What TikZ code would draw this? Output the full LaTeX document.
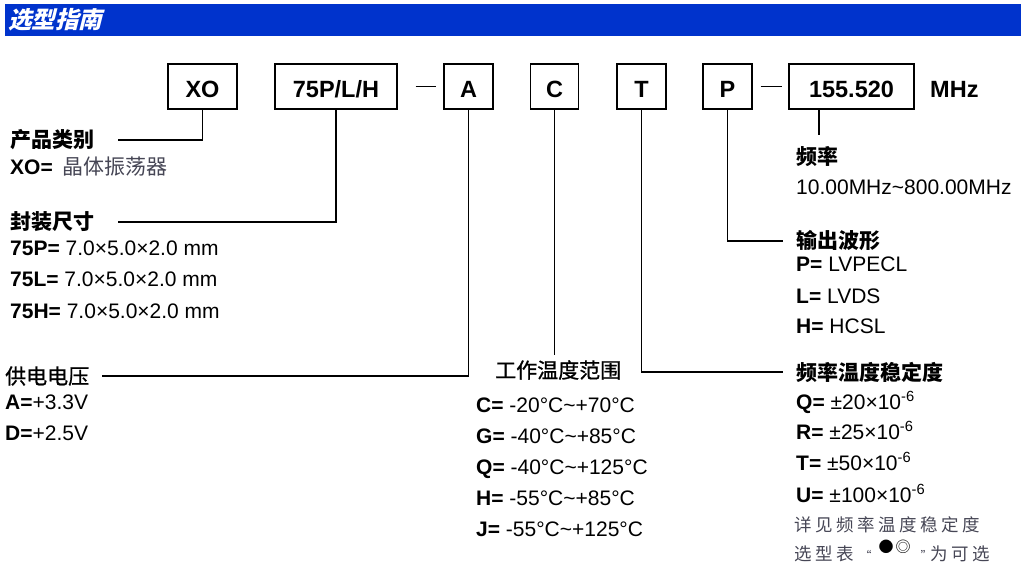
\documentclass[tikz,border=0pt]{standalone}
\usepackage{fontspec}
\setmainfont{Liberation Sans}
\newfontfamily\cjk{Noto Sans CJK SC}
\newfontfamily\cjkmed{Noto Sans CJK SC}[FakeBold=1]
\newfontfamily\cjkslant{Noto Sans CJK SC}[FakeSlant=0.25]
\newfontfamily\cjkwide{Noto Sans CJK SC}[LetterSpace=20]
\usetikzlibrary{positioning}
\definecolor{barblue}{RGB}{0,51,204}
\definecolor{notegray}{RGB}{70,70,85}

\begin{document}
\begin{tikzpicture}[x=1pt, y=-1pt,
    codebox/.style={draw, line width=1.4pt, minimum height=45pt, inner sep=0pt,
                    text height=23pt, text depth=0pt,
                    font=\fontsize{23.5}{28}\selectfont\bfseries},
    link/.style={line width=1.4pt},
    head/.style={anchor=west, inner sep=0pt, font=\fontsize{21}{25}\selectfont\cjk\bfseries},
    headlight/.style={anchor=west, inner sep=0pt, font=\fontsize{21}{25}\selectfont\cjkmed},
    item/.style={anchor=base west, inner sep=0pt, font=\fontsize{21}{25}\selectfont},
    note/.style={anchor=base west, inner sep=0pt, text=notegray,
                 font=\fontsize{17.5}{21}\selectfont\cjkwide}
]
    \useasboundingbox (0,0) rectangle (1023,572);

    % --- Title bar ---
    \fill[barblue] (5,4) rectangle (1021,36);
    \node[anchor=west, inner sep=0pt, text=white,
          font=\fontsize{23.5}{28}\selectfont\cjkslant\bfseries] (title) at (8,20) {选型指南};

    % --- Code boxes ---
    \node[codebox, minimum width=69pt]  (xo)   at (202.5,86.5) {XO};
    \node[codebox, minimum width=122pt] (pkg)  at (336,86.5)   {75P/L/H};
    \node[codebox, minimum width=49pt]  (volt) at (468.5,86.5) {A};
    \node[codebox, minimum width=48pt]  (temp) at (554.5,86.5) {C};
    \node[codebox, minimum width=49pt]  (stab) at (641.5,86.5) {T};
    \node[codebox, minimum width=49pt]  (outp) at (727.5,86.5) {P};
    \node[codebox, minimum width=125pt] (freq) at (851.5,86.5) {155.520};
    \node[anchor=west, inner sep=0pt, font=\fontsize{23.5}{28}\selectfont\bfseries]
        (unit) at (930,89.5) {MHz};

    \draw[link, shorten <=18pt, shorten >=7pt] (pkg) -- (volt);
    \draw[link, shorten <=8pt, shorten >=6pt] (outp) -- (freq);

    % --- Left column ---
    \node[head] (lbltype) at (10,140) {产品类别};
    \node[item] (xoval) at (10,175) {\textbf{XO=}\hspace{10pt}{\cjk\color{notegray}晶体振荡器}};

    \node[head] (lblpkg) at (10,222) {封装尺寸};
    \node[item] (pkgp) at (10,255)   {\textbf{75P=} 7.0×5.0×2.0 mm};
    \node[item] (pkgl) at (10,286.5) {\textbf{75L=} 7.0×5.0×2.0 mm};
    \node[item] (pkgh) at (10,318)   {\textbf{75H=} 7.0×5.0×2.0 mm};

    \node[headlight] (lblvolt) at (5,376) {供电电压};
    \node[item] (volta) at (5,409) {\textbf{A=}+3.3V};
    \node[item] (voltd) at (5,440) {\textbf{D=}+2.5V};

    % --- Middle column ---
    \node[headlight] (lbltemp) at (495,370) {工作温度范围};
    \node[item] (tempc) at (476,412.5) {\textbf{C=} -20°C\textasciitilde+70°C};
    \node[item] (tempg) at (476,443)   {\textbf{G=} -40°C\textasciitilde+85°C};
    \node[item] (tempq) at (476,474)   {\textbf{Q=} -40°C\textasciitilde+125°C};
    \node[item] (temph) at (476,505)   {\textbf{H=} -55°C\textasciitilde+85°C};
    \node[item] (tempj) at (476,536)   {\textbf{J=} -55°C\textasciitilde+125°C};

    % --- Right column ---
    \node[head] (lblfreq) at (796,157) {频率};
    \node[item] (freqval) at (796,195) {10.00MHz\textasciitilde800.00MHz};

    \node[head] (lblout) at (796,241) {输出波形};
    \node[item] (outpp) at (796,272) {\textbf{P=} LVPECL};
    \node[item] (outpl) at (796,303) {\textbf{L=} LVDS};
    \node[item] (outph) at (796,333) {\textbf{H=} HCSL};

    \node[head] (lblstab) at (796,372) {频率温度稳定度};
    \node[item] (stabq) at (796,409) {\textbf{Q=} ±20×10\textsuperscript{-6}};
    \node[item] (stabr) at (796,439) {\textbf{R=} ±25×10\textsuperscript{-6}};
    \node[item] (stabt) at (796,470) {\textbf{T=} ±50×10\textsuperscript{-6}};
    \node[item] (stabu) at (796,502) {\textbf{U=} ±100×10\textsuperscript{-6}};
    \node[note] (note1) at (794,531) {详见频率温度稳定度};
    \node[note] (note2) at (794,560)
        {选型表\hspace{6pt}{\fontsize{12}{14}\selectfont“}\hspace{7pt}%
         \raisebox{8pt}{\fontsize{15}{18}\selectfont\textcolor{black}{●\hspace{2pt}◎}}%
         \hspace{10pt}{\fontsize{12}{14}\selectfont”}\hspace{-2pt}为可选};

    % --- Connectors ---
    \coordinate (freqtap) at (819,135);
    \draw[link] (xo.south)   |- ([xshift=24pt]lbltype.east);
    \draw[link] (pkg.south)  |- ([xshift=24pt]lblpkg.east);
    \draw[link] (volt.south) |- ([xshift=13pt]lblvolt.east);
    \draw[link, shorten >=5pt] (temp.south) -- (temp.south |- lbltemp.north);
    \draw[link] (stab.south) |- ([xshift=-13pt]lblstab.west);
    \draw[link] (outp.south) |- ([xshift=-13pt]lblout.west);
    \draw[link] (freq.south -| freqtap) -- (freqtap);
\end{tikzpicture}
\end{document}
